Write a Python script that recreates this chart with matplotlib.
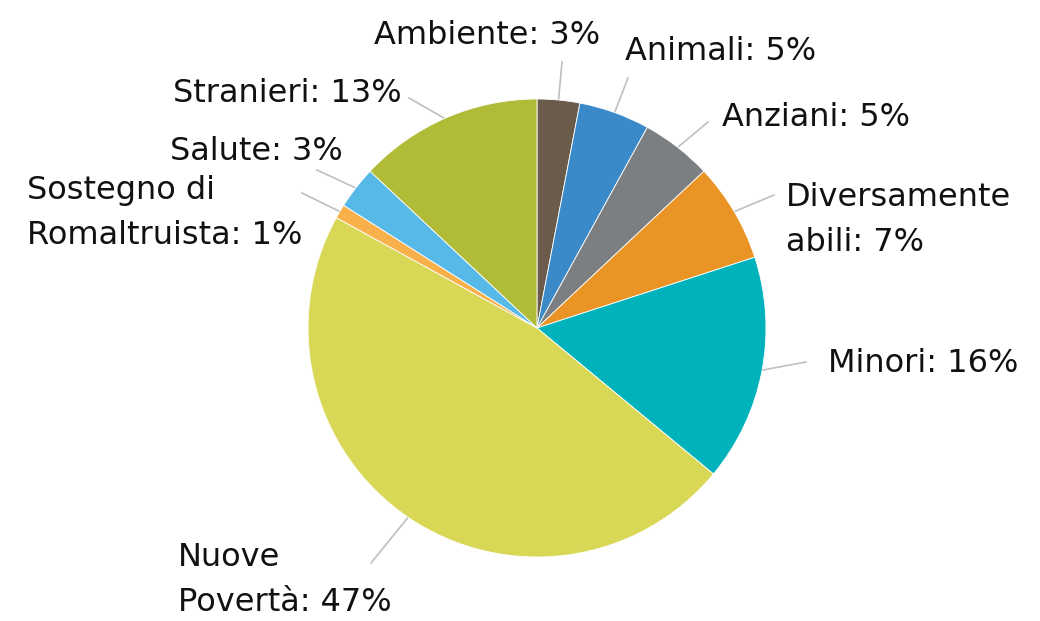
import numpy as np
import matplotlib.pyplot as plt

categories = ["Ambiente", "Animali", "Anziani", "Diversamente\nabili", "Minori",
              "Nuove\nPovertà", "Sostegno di\nRomaltruista", "Salute", "Stranieri"]
values = [3, 5, 5, 7, 16, 47, 1, 3, 13]
colors = ["#6b5b4b", "#3a89c9", "#7c7f82", "#e99425", "#00b2bc",
          "#d9d856", "#f8b04a", "#56b9e8", "#b0bb38"]

# label layout in pixel coords (top-left origin): text anchor x, y, ha, and leader-line end
label_pos = [
    (600, 35, "right", (562, 62)),
    (625, 52, "left", (628, 78)),
    (722, 118, "left", (708, 122)),
    (786, 220, "left", (774, 195)),
    (828, 363, "left", (806, 362)),
    (178, 580, "left", (371, 563)),
    (27, 213, "left", (302, 193)),
    (343, 152, "right", (317, 170)),
    (402, 93, "right", (409, 98)),
]

W, H = 1040, 621
cx, cy, R = 537, 328, 229

fig = plt.figure(figsize=(10.4, 6.21), dpi=100)
ax = fig.add_axes([0, 0, 1, 1])

wedges, _ = ax.pie(values, colors=colors, startangle=90, counterclock=False,
                   center=(cx, H - cy), radius=R,
                   wedgeprops=dict(edgecolor="white", linewidth=0.6))
ax.set_xlim(0, W)
ax.set_ylim(0, H)
ax.set_aspect("equal")
ax.axis("off")

for w, name, v, (tx, ty, ha, (lx, ly)) in zip(wedges, categories, values, label_pos):
    mid = np.deg2rad((w.theta1 + w.theta2) / 2)
    px = cx + (R - 2) * np.cos(mid)
    py = (H - cy) + (R - 2) * np.sin(mid)
    ax.plot([lx, px], [H - ly, py], color="#bfbfbf", lw=1.2, zorder=0)
    ax.text(tx, H - ty, f"{name}: {v}%", ha=ha, va="center", fontsize=23,
            family="DejaVu Sans", color="#111111", linespacing=1.6)

fig.savefig("out.png", dpi=100)
